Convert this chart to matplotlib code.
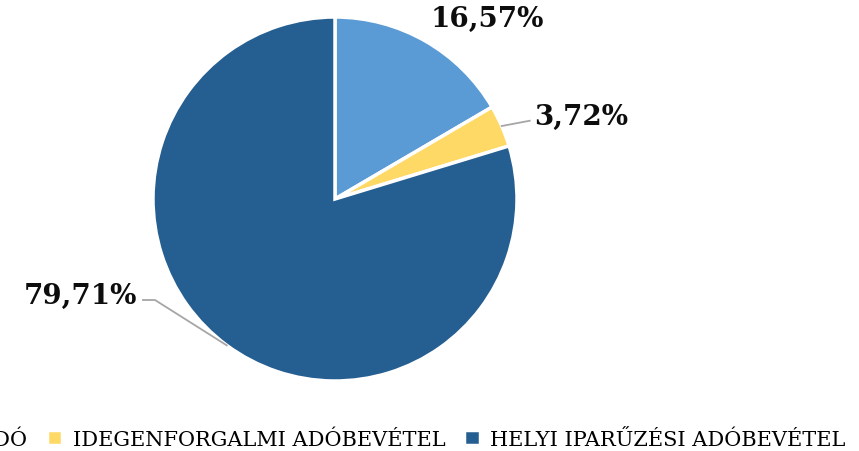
import matplotlib
matplotlib.use("Agg")
from matplotlib import pyplot as plt

labels = ["GÉPJÁRMŰADÓ", "IDEGENFORGALMI ADÓBEVÉTEL", "HELYI IPARŰZÉSI ADÓBEVÉTEL"]
values = [16.57, 3.72, 79.71]
colors = ["#5B9BD5", "#FFD966", "#255E91"]
pct_text = ["16,57%", "3,72%", "79,71%"]

plt.rcParams['font.family'] = ['DejaVu Serif']

fig = plt.figure(figsize=(8.59, 4.52), dpi=100)
ax = fig.add_axes([153 / 859, 70 / 452, 364 / 859, 364 / 452])

wedges, _ = ax.pie(values, colors=colors, startangle=90, counterclock=False,
                   radius=1, wedgeprops=dict(edgecolor="white", linewidth=2.5))
ax.set_xlim(-1, 1)
ax.set_ylim(-1, 1)
ax.set_aspect("equal")
ax.axis("off")

# label placement (data units, pie radius = 1)
lab_pos = [(0.835, 0.99), (1.35, 0.456), (-1.40, -0.53)]
for i, t in enumerate(pct_text):
    ax.text(lab_pos[i][0], lab_pos[i][1], t, ha="center", va="center",
            fontsize=20, fontweight="bold", color="#0d0d0d", clip_on=False)

# leader lines
ax.plot([0.916, 1.07], [0.401, 0.43], color="#A6A6A6", lw=1.3, clip_on=False)
ax.plot([-0.595, -0.989, -1.055], [-0.804, -0.555, -0.555], color="#A6A6A6", lw=1.3, clip_on=False)

fig.legend(wedges, labels, loc="center right", bbox_to_anchor=(854 / 859, 1 - 438 / 452),
           ncol=3, frameon=False, fontsize=15, handlelength=0.75, handleheight=0.75,
           handletextpad=0.5, columnspacing=0.9, borderaxespad=0)

fig.savefig("out.png", dpi=100)
